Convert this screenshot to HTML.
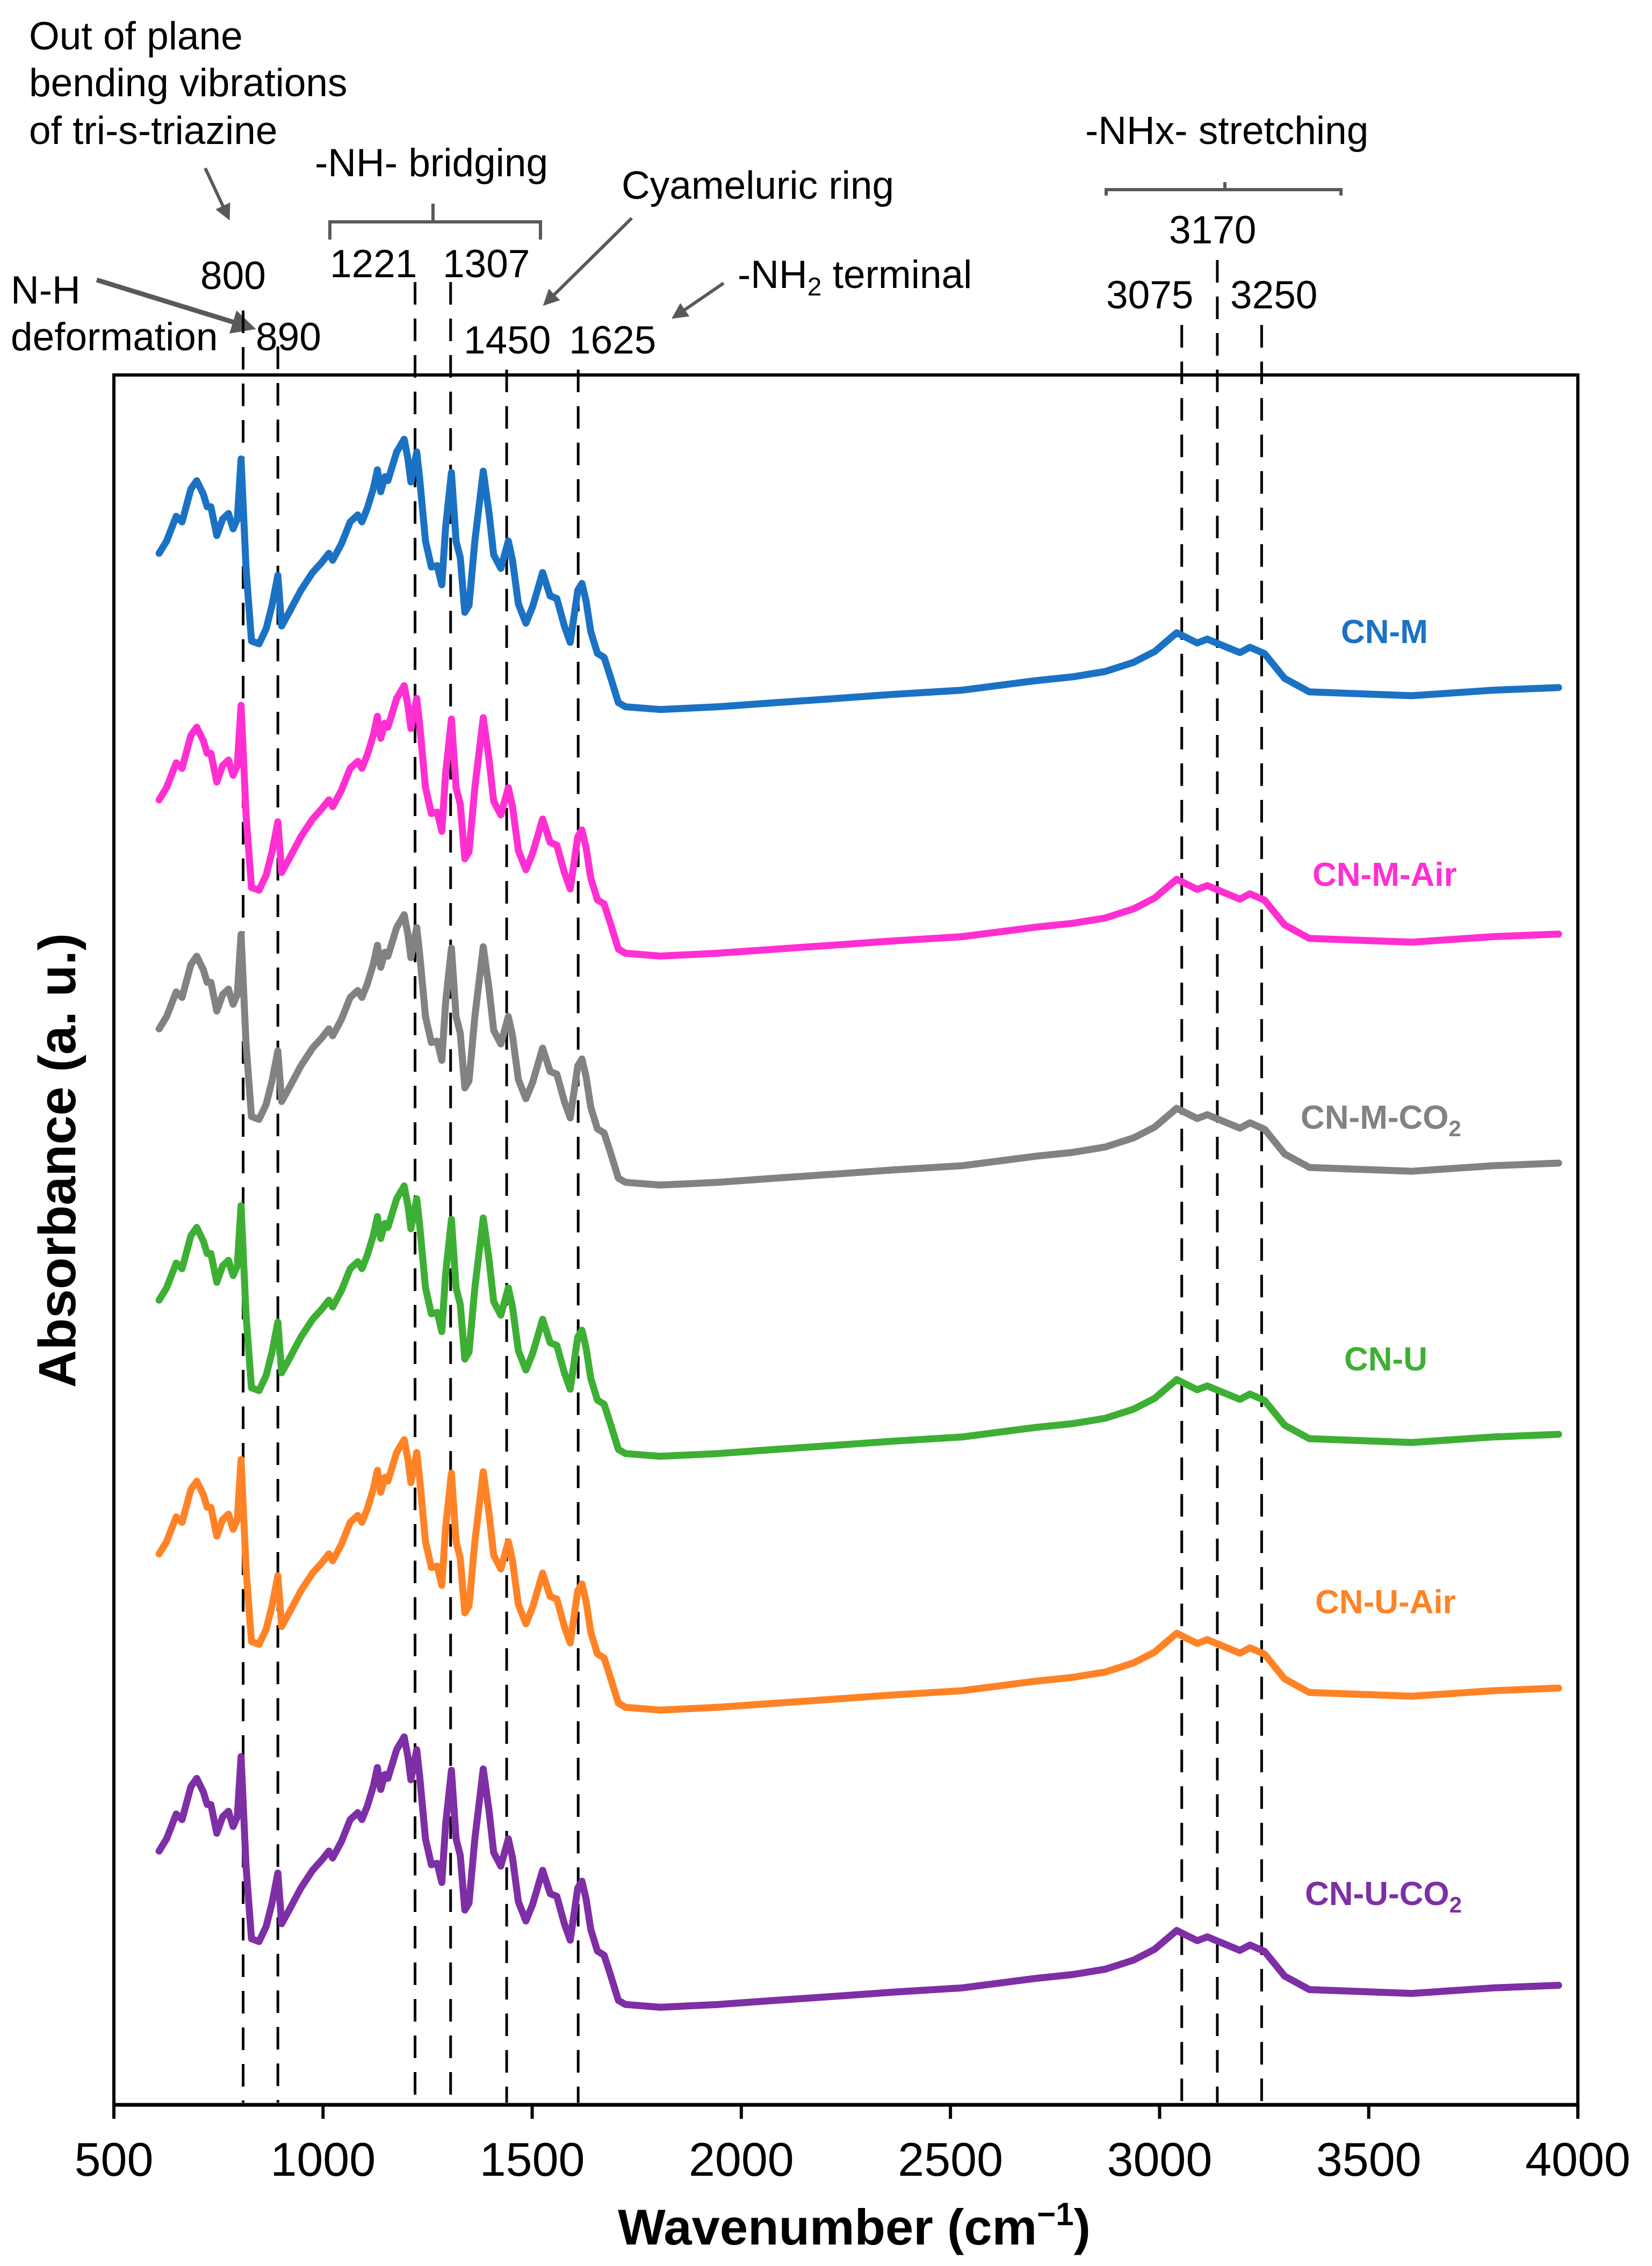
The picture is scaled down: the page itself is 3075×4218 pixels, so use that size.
<!DOCTYPE html>
<html><head><meta charset="utf-8"><style>
html,body{margin:0;padding:0;background:#fff}
svg{display:block}
text{font-family:"Liberation Sans",Arial,sans-serif}
</style></head><body>
<svg id="chart" width="3075" height="4218" viewBox="0 0 3075 4218" xmlns="http://www.w3.org/2000/svg">
<g id="annot" fill="#000" font-size="73">
<text x="54" y="92">Out of plane</text>
<text x="54" y="179">bending vibrations</text>
<text x="54" y="268">of tri-s-triazine</text>
<text x="586" y="328">-NH- bridging</text>
<text x="1157" y="370">Cyameluric ring</text>
<text x="2020" y="268">-NHx- stretching</text>
<text x="2176" y="453">3170</text>
<text x="373" y="538">800</text>
<text x="614" y="516">1221</text>
<text x="824" y="516">1307</text>
<text x="1373" y="536">-NH<tspan font-size="48" dy="14">2</tspan><tspan dy="-14"> terminal</tspan></text>
<text x="2059" y="574">3075</text>
<text x="2290" y="574">3250</text>
<text x="20" y="565">N-H</text>
<text x="20" y="652">deformation</text>
<text x="476" y="652">890</text>
<text x="863" y="658">1450</text>
<text x="1059" y="658">1625</text>
</g>
<g stroke="#595959" fill="none" stroke-width="6">
<path d="M614 446 V413 H1006 V446 M806 413 V379"/>
<path d="M2059 364 V353 H2496 V364 M2280 353 V339"/>
</g>
<defs><marker id="ah" markerWidth="5" markerHeight="5" refX="4" refY="2.5" orient="auto" markerUnits="strokeWidth"><path d="M0,0 L5,2.5 L0,5 z" fill="#595959"/></marker></defs>
<g stroke="#595959" stroke-width="6" marker-end="url(#ah)">
<line x1="382" y1="313" x2="425" y2="405"/>
<line x1="1176" y1="406" x2="1015" y2="565"/>
<line x1="1347" y1="527" x2="1255" y2="590"/>
<line x1="180" y1="521" x2="468" y2="610" stroke-width="9"/>
</g>
<g id="dashes"></g>
<g id="series"></g>
<g id="labels" font-weight="bold" font-size="62"></g>
<rect x="212" y="698" width="2725" height="3220" fill="none" stroke="#000" stroke-width="6"/>
<line x1="209" y1="3918" x2="2940" y2="3918" stroke="#000" stroke-width="7"/>
<g id="xticks"></g>
<text x="1590" y="4178" text-anchor="middle" font-size="94" font-weight="bold">Wavenumber (cm<tspan font-size="60" dy="-36">−1</tspan><tspan dy="36">)</tspan></text>
<text transform="translate(140,2160) rotate(-90)" text-anchor="middle" font-size="97" font-weight="bold">Absorbance (a. u.)</text>
</svg>
<script>
const wavenumbers=[608,626,649,663,684,698,714,723,732,746,760,774,785,795,804,816,829,847,864,878,892,901,919,947,975,996,1014,1023,1044,1065,1083,1093,1106,1120,1130,1138,1148,1155,1165,1176,1194,1203,1210,1224,1231,1245,1259,1273,1284,1293,1307,1318,1328,1339,1349,1363,1383,1397,1408,1425,1443,1453,1467,1485,1501,1525,1543,1559,1577,1591,1609,1619,1629,1640,1656,1672,1688,1706,1723,1806,1944,2083,2221,2360,2528,2704,2792,2870,2938,2988,3041,3090,3114,3192,3216,3251,3299,3358,3603,3798,3954];
const cnM=[8.969,9.04,9.183,9.151,9.341,9.389,9.31,9.238,9.238,9.072,9.167,9.199,9.111,9.167,9.515,8.882,8.462,8.446,8.533,8.668,8.842,8.549,8.628,8.755,8.858,8.914,8.969,8.929,9.024,9.151,9.191,9.151,9.23,9.341,9.452,9.325,9.412,9.389,9.468,9.555,9.629,9.515,9.381,9.555,9.405,9.04,8.89,8.898,8.787,9.119,9.436,9.04,8.945,8.628,8.668,9.04,9.444,9.199,8.961,8.882,9.04,8.929,8.676,8.565,8.66,8.858,8.723,8.707,8.549,8.454,8.755,8.795,8.692,8.517,8.391,8.367,8.248,8.106,8.082,8.066,8.082,8.106,8.129,8.153,8.178,8.233,8.255,8.286,8.339,8.401,8.51,8.451,8.473,8.395,8.426,8.389,8.246,8.168,8.146,8.178,8.193];
const seriesNames=["CN-M","CN-M-Air","CN-M-CO2","CN-U","CN-U-Air","CN-U-CO2"];
const seriesOffsets=[0,1.425,2.749,4.317,5.784,7.502];
const seriesColors=["#1b72c4","#ff2fd2","#828282","#3eaf35","#ff8326","#7e2fa5"];
const peakLines=[809,892,1220,1305,1439,1610,3053,3138,3244];
const peakTops=[578,645,525,525,688,688,605,484,605];
const xTicks=[500,1000,1500,2000,2500,3000,3500,4000];
const labelX=[2496,2443,2421,2502,2448,2429];
const labelY=[1175,1627,2079,2529,2981,3524];
const NS="http://www.w3.org/2000/svg";
const X0=212,X1=2937,Y0=3918,Y1=698;
const xs=w=>X0+(w-500)*(X1-X0)/3500;
const ys=v=>Y0-(v-0)*(Y0-Y1)/10;
const dash=document.getElementById('dashes');
peakLines.forEach((w,i)=>{const l=document.createElementNS(NS,'line');
l.setAttribute('x1',xs(w));l.setAttribute('x2',xs(w));l.setAttribute('y1',peakTops[i]);l.setAttribute('y2',3914);
l.setAttribute('stroke','#000');l.setAttribute('stroke-width','5');l.setAttribute('stroke-dasharray','42 26');


dash.appendChild(l);});
const sg=document.getElementById('series');const lg=document.getElementById('labels');
seriesNames.forEach((n,s)=>{let d='';wavenumbers.forEach((w,i)=>{d+=(i?'L':'M')+xs(w).toFixed(1)+' '+ys(cnM[i]-seriesOffsets[s]).toFixed(1);});
const p=document.createElementNS(NS,'path');p.setAttribute('d',d);p.setAttribute('fill','none');p.setAttribute('stroke',seriesColors[s]);
p.setAttribute('stroke-width','13');p.setAttribute('stroke-linejoin','round');p.setAttribute('stroke-linecap','round');


sg.appendChild(p);
const t=document.createElementNS(NS,'text');t.setAttribute('x',labelX[s]);t.setAttribute('y',labelY[s]+22);t.setAttribute('fill',seriesColors[s]);
if(n.endsWith('CO2')){t.innerHTML=n.slice(0,-1)+'<tspan font-size="42" dy="14">2</tspan>';}else t.textContent=n;


lg.appendChild(t);});
const xt=document.getElementById('xticks');
xTicks.forEach(v=>{const l=document.createElementNS(NS,'line');l.setAttribute('x1',xs(v));l.setAttribute('x2',xs(v));l.setAttribute('y1',3918);l.setAttribute('y2',3944);l.setAttribute('stroke','#000');l.setAttribute('stroke-width','6');


xt.appendChild(l);
const t=document.createElementNS(NS,'text');t.setAttribute('x',xs(v));t.setAttribute('y',4050);t.setAttribute('text-anchor','middle');t.setAttribute('font-size','88');t.textContent=v;


xt.appendChild(t);});
</script>
</body></html>
